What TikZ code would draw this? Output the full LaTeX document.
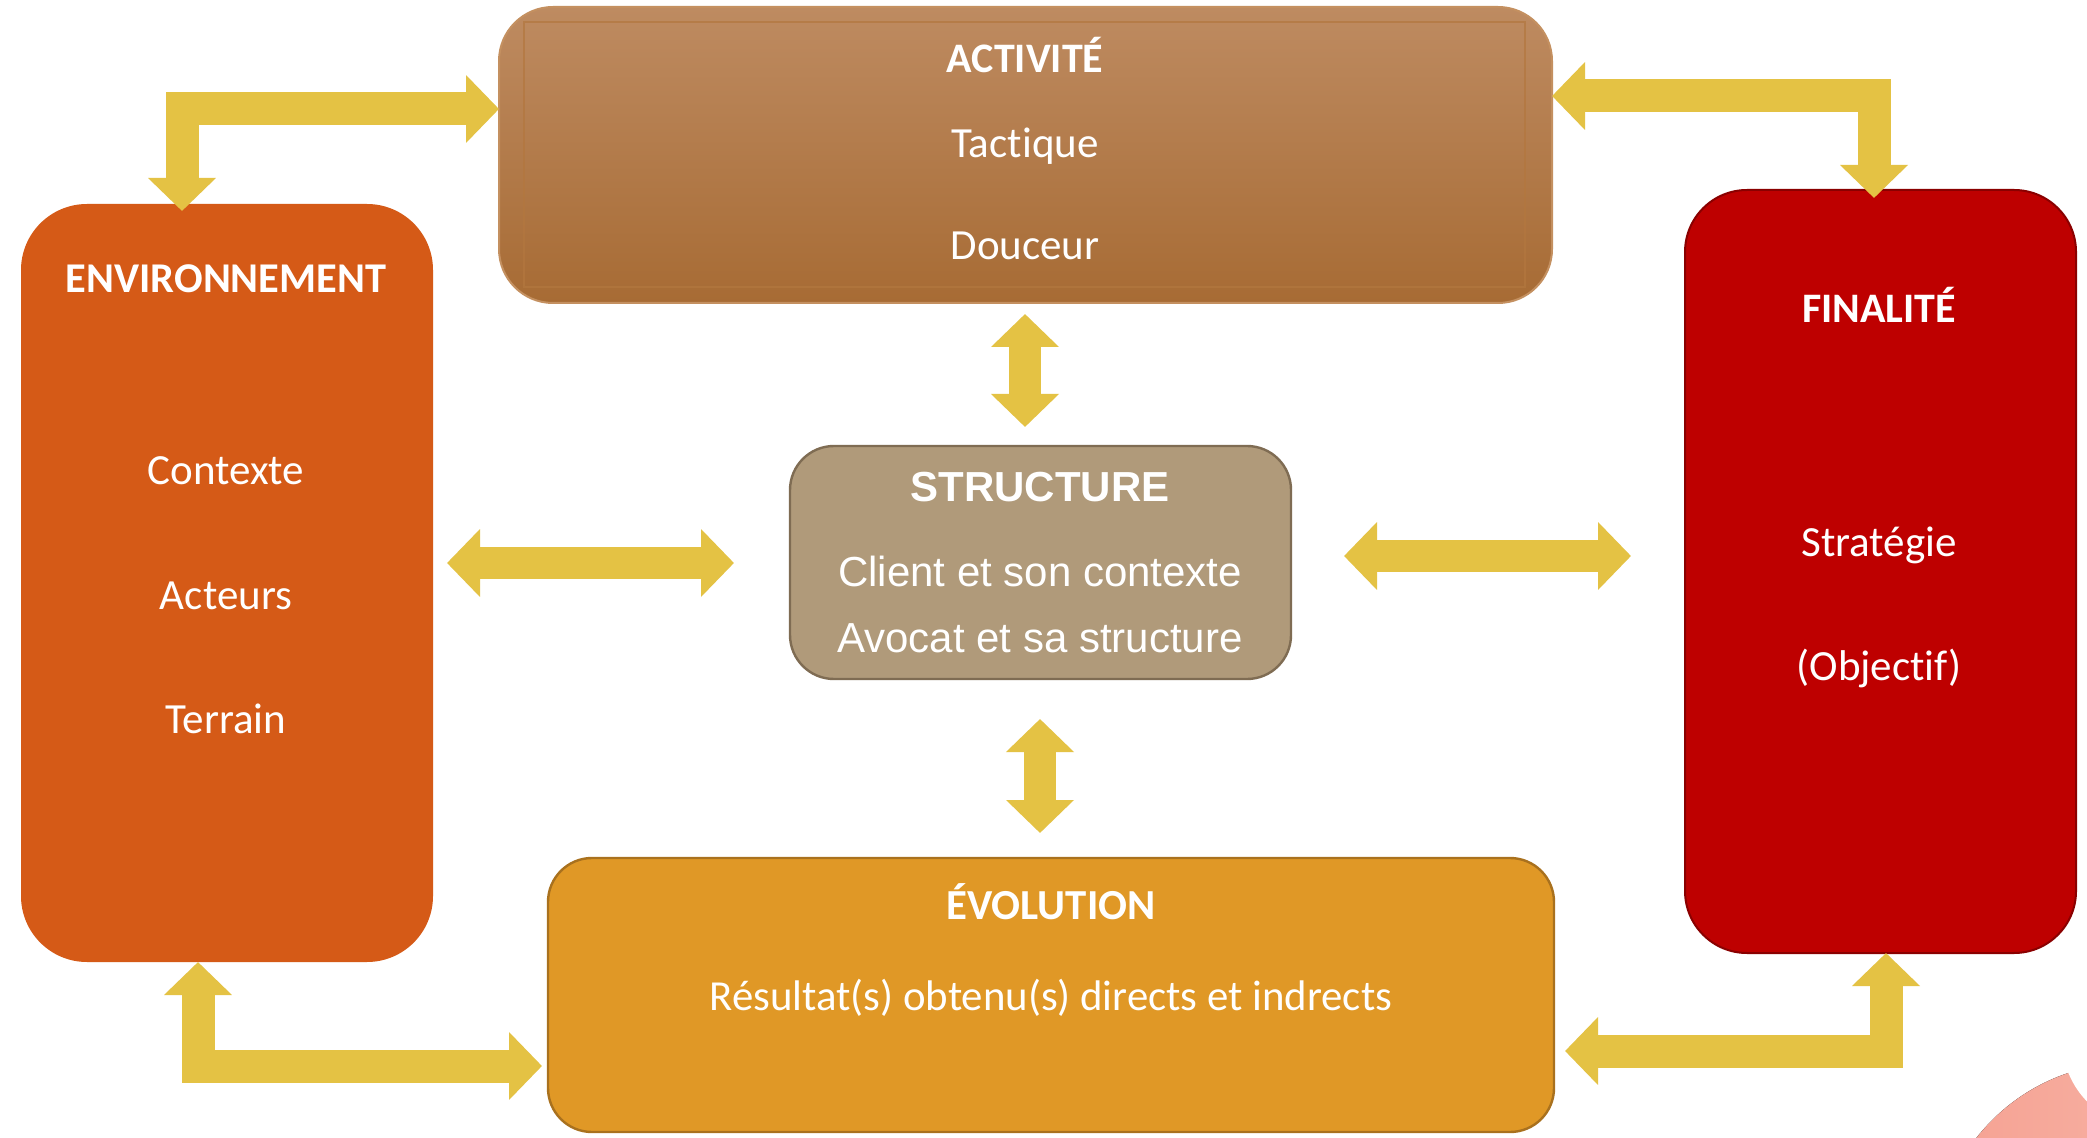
\documentclass[tikz,border=0pt]{standalone}
\usepackage{fontspec}
\setmainfont{Carlito}[Ligatures=NoCommon]
\newfontfamily\arialf{Liberation Sans}
\usetikzlibrary{arrows.meta,calc}
\definecolor{arrowY}{HTML}{E4C244}
\definecolor{envC}{HTML}{D55A17}
\definecolor{actTop}{HTML}{BE8B61}
\definecolor{actBot}{HTML}{A76B34}
\definecolor{actBorder}{HTML}{C49060}
\definecolor{actInner}{HTML}{B3773F}
\definecolor{finC}{HTML}{BE0000}
\definecolor{finB}{HTML}{8A0000}
\definecolor{strC}{HTML}{B09A7A}
\definecolor{strB}{HTML}{7F6C53}
\definecolor{evoC}{HTML}{E09826}
\definecolor{evoB}{HTML}{A9711E}
\definecolor{pinkL}{HTML}{F5A192}
\definecolor{pinkR}{HTML}{F9BBAE}
\begin{document}
\begin{tikzpicture}[x=0.5pt,y=-0.5pt,
  box/.style={inner sep=0pt, outer sep=0pt},
  lbl/.style={inner sep=0pt, outer sep=0pt, text=white, anchor=base},
  hd/.style={lbl, font=\bfseries\fontsize{21.2pt}{25pt}\selectfont},
  tx/.style={lbl, font=\fontsize{21.5pt}{25pt}\selectfont},
  ahd/.style={lbl, font=\arialf\bfseries\fontsize{21pt}{25pt}\selectfont},
  atx/.style={lbl, font=\arialf\fontsize{21pt}{25pt}\selectfont},
  barrow/.style={draw=arrowY, line width=16.5pt, line join=miter,
    {Triangle[width=33pt,length=16.5pt]}-{Triangle[width=33pt,length=16.5pt]}}
]
\useasboundingbox (0,0) rectangle (2087,1138);
\fill[white] (0,0) rectangle (2087,1138);

% decorative pink shape (bottom right)
\fill[left color=pinkL, right color=pinkR] (2130,1258) circle (97.5pt);
\fill[white] (2150,1040) circle (44pt);

% boxes
\node[box, fill=envC, minimum width=206pt, minimum height=379pt, rounded corners=33pt] (env) at (227,583) {};
\node[box, top color=actTop, bottom color=actBot, draw=actBorder, line width=1pt,
  minimum width=526.5pt, minimum height=148pt, rounded corners=27pt] (act) at (1025.5,155) {};
\draw[actInner, opacity=0.7, line width=0.8pt] ($(act.north west)+(25,15)$) rectangle ($(act.south east)+(-27,-16)$);
\node[box, fill=finC, draw=finB, line width=1pt, minimum width=195.5pt, minimum height=381.5pt, rounded corners=31pt] (fin) at (1880.5,571.5) {};
\node[box, fill=strC, draw=strB, line width=1.2pt, minimum width=250.5pt, minimum height=116.5pt, rounded corners=22pt] (str) at (1040.5,562.5) {};
\node[box, fill=evoC, draw=evoB, line width=1.2pt, minimum width=503pt, minimum height=137pt, rounded corners=22pt] (evo) at (1051,995) {};

% texts
\node[hd] (envT) at (226,293) {ENVIRONNEMENT};
\node[tx] (env1) at (226,485) {Contexte};
\node[tx] (env2) at (226,609) {Acteurs};
\node[tx] (env3) at (226,733) {Terrain};

\node[hd, font=\bfseries\fontsize{21pt}{25pt}\selectfont] (actT) at (1025,73) {ACTIVITÉ};
\node[tx] (act1) at (1025,158) {Tactique};
\node[tx] (act2) at (1025,260) {Douceur};

\node[hd, font=\bfseries\fontsize{21pt}{25pt}\selectfont] (finT) at (1879,323) {FINALITÉ};
\node[tx] (fin1) at (1879,556) {Stratégie};
\node[tx] (fin2) at (1879,680) {(Objectif)};

\node[ahd] (strT) at (1040,502) {STRUCTURE};
\node[atx] (str1) at (1040,587) {Client et son contexte};
\node[atx] (str2) at (1040,652) {Avocat et sa structure};

\node[hd, font=\bfseries\fontsize{21.4pt}{25pt}\selectfont] (evoT) at (1051,919) {ÉVOLUTION};
\node[tx, font=\fontsize{21.4pt}{25pt}\selectfont] (evo1) at (1051,1010) {Résultat(s) obtenu(s) directs et indrects};

% elbow arrows
\draw[barrow] ($(env.north -| 182,0)+(0,7)$) |- (act.west |- 0,109);
\draw[barrow] (act.east |- 0,96) -| ($(fin.north -| 1874,0)+(0,8)$);
\draw[barrow] (env.south -| 198,0) |- ($(evo.west |- 0,1066)+(-6,0)$);
\draw[barrow] ($(evo.east |- 0,1051)+(11,0)$) -| (fin.south -| 1886,0);

% straight arrows
\draw[barrow, line width=16pt] ($(env.east |- 0,563)+(14,0)$) -- ($(str.west |- 0,563)+(-56,0)$);
\draw[barrow, line width=16pt] ($(str.east |- 0,556)+(53,0)$) -- ($(fin.west |- 0,556)+(-54,0)$);
\draw[barrow, line width=16pt] ($(act.south -| 1025,0)+(0,11)$) -- ($(str.north -| 1025,0)+(0,-19)$);
\draw[barrow, line width=16pt] ($(str.south -| 1040,0)+(0,40)$) -- ($(evo.north -| 1040,0)+(0,-25)$);
\end{tikzpicture}
\end{document}
